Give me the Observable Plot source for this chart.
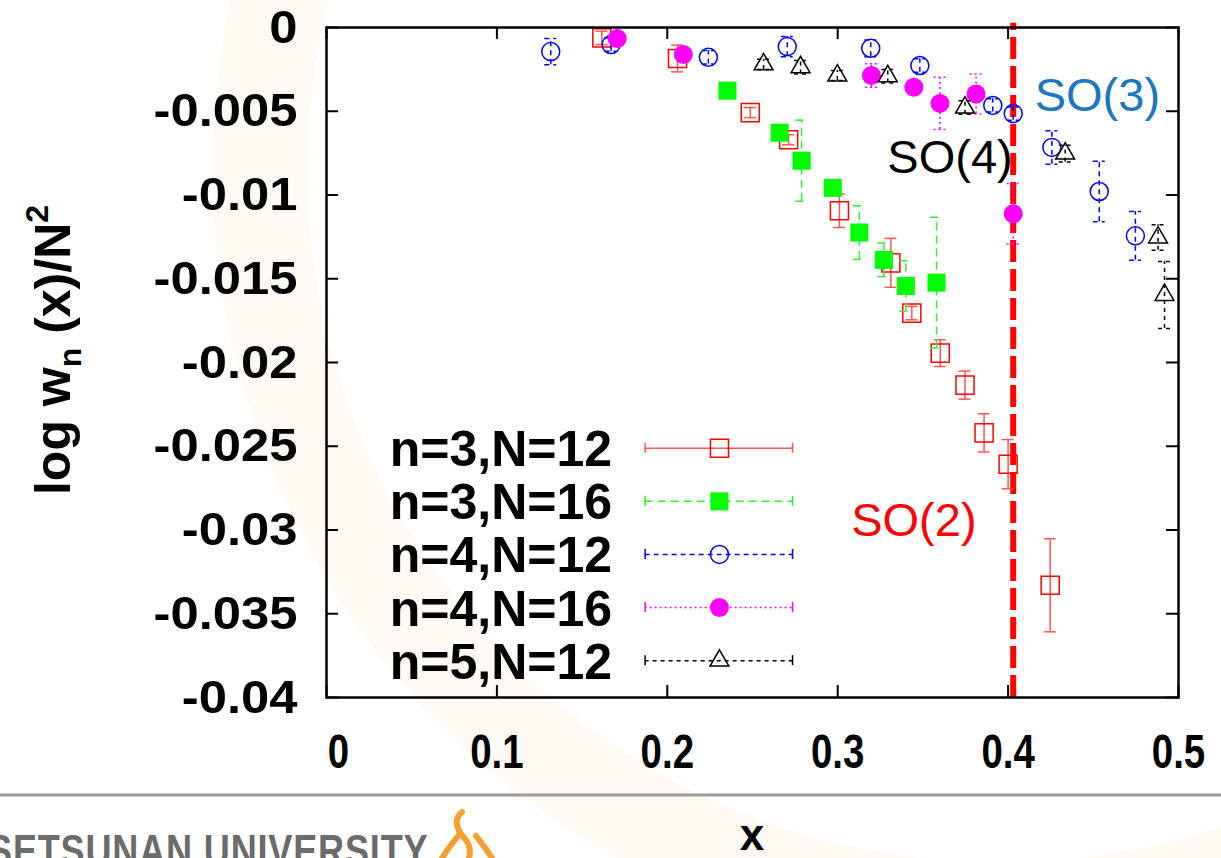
<!DOCTYPE html>
<html><head><meta charset="utf-8">
<script src="https://cdn.jsdelivr.net/npm/d3@7"></script>
<script src="https://cdn.jsdelivr.net/npm/@observablehq/plot@0.6"></script>
<style>
body{margin:0;background:#fff;overflow:hidden}
#chart{position:relative;width:1221px;height:858px}
</style></head><body><div id="chart"></div>
<script>
// ---- data ----
const xTicks = [0, 0.1, 0.2, 0.3, 0.4, 0.5];
const yTicks = [0, -0.005, -0.01, -0.015, -0.02, -0.025, -0.03, -0.035, -0.04];

// n=3, N=12
const s1x = [0.1616, 0.206, 0.2487, 0.2712, 0.301, 0.3312, 0.3435, 0.3602, 0.3747, 0.3859, 0.400, 0.4247];
const s1y = [-0.00062, -0.00185, -0.00508, -0.0067, -0.01094, -0.01405, -0.01705, -0.01944, -0.02135, -0.0242, -0.02607, -0.0333];
const s1e = [0.0004, 0.0008, 0.0003, 0.0003, 0.001, 0.00146, 0.0004, 0.0008, 0.00084, 0.00114, 0.00147, 0.00278];
// n=3, N=16
const s2x = [0.2353, 0.2659, 0.2788, 0.2971, 0.3127, 0.3271, 0.34, 0.358];
const s2y = [-0.00377, -0.00628, -0.00795, -0.00957, -0.01224, -0.01387, -0.01543, -0.01523];
const s2e = [0.0002, 0.0003, 0.00242, 0.0002, 0.0016, 0.001, 0.0015, 0.0039];
// n=4, N=12
const s3x = [0.1316, 0.167, 0.2241, 0.2704, 0.3194, 0.3482, 0.391, 0.403, 0.4257, 0.4535, 0.4747];
const s3y = [-0.00144, -0.00102, -0.00178, -0.00114, -0.00124, -0.00227, -0.00465, -0.00514, -0.00716, -0.00979, -0.01244];
const s3e = [0.00078, 0.0004, 0.0004, 0.0006, 0.0005, 0.0004, 0.0004, 0.0004, 0.001, 0.0018, 0.00145];
// n=4, N=16
const s4x = [0.1706, 0.2094, 0.3198, 0.3447, 0.36, 0.3812, 0.403];
const s4y = [-0.00066, -0.00161, -0.00287, -0.00357, -0.00453, -0.00397, -0.01112];
const s4e = [0.0003, 0.0003, 0.0007, 0.0003, 0.00156, 0.0012, 0.0018];
// n=5, N=12
const s5x = [0.2565, 0.2782, 0.2998, 0.3294, 0.3747, 0.4335, 0.488, 0.4918];
const s5y = [-0.0022, -0.00237, -0.00287, -0.00291, -0.00478, -0.00753, -0.01254, -0.01597];
const s5e = [0.0003, 0.0004, 0.0003, 0.0004, 0.0004, 0.0005, 0.00076, 0.002];

const seriesNames = ["n=3,N=12", "n=3,N=16", "n=4,N=12", "n=4,N=16", "n=5,N=12"];
const criticalX = [0.403];
const annoText = ["SO(3)", "SO(4)", "SO(2)"];
const annoX = [0.4524, 0.3659, 0.3447];
const annoY = [-0.00407, -0.00777, -0.02948];
const annoColor = ["#1a78c2", "#000000", "#ff0000"];
const legendY = [-0.02512, -0.02829, -0.03146, -0.03463, -0.0378];

// ---- styles ----
const styles = [
  {stroke: "#ff0000", bar: "#ff5555", dash: null, symbol: "square", r: 10.2, fill: "none"},
  {stroke: "#00ff00", bar: "#33ee33", dash: "8,5", symbol: "square", r: 10.2, fill: "#00ff00"},
  {stroke: "#0000ff", bar: "#0000ff", dash: "5,4", symbol: "circle", r: 9, fill: "none"},
  {stroke: "#ff00ff", bar: "#ff00ff", dash: "2,3", symbol: "circle", r: 9.5, fill: "#ff00ff"},
  {stroke: "#000000", bar: "#000000", dash: "4,4", symbol: "triangle", r: 7, fill: "none"}
];
const rows = (xs, ys, es) => xs.map((x, i) => ({x, y: ys[i], e: es[i]}));
const data = [rows(s1x, s1y, s1e), rows(s2x, s2y, s2e), rows(s3x, s3y, s3e), rows(s4x, s4y, s4e), rows(s5x, s5y, s5e)];

const X0 = 0, X1 = 0.5, Y0 = -0.04, Y1 = 0;
const capW = 0.0035;    // half width of error-bar caps (x units)
const tickLenY = 0.00072, tickLenX = 0.0071;

const marks = [];
marks.push(Plot.ruleX(criticalX, {x: d => d, y1: Y0, y2: 0.00025, stroke: "#ff0000", strokeWidth: 6, strokeDasharray: "22,7"}));

data.forEach((rs, i) => {
  const s = styles[i];
  const common = {stroke: s.bar, strokeWidth: 1.5, strokeDasharray: s.dash};
  marks.push(Plot.ruleX(rs, {x: "x", y1: d => d.y - d.e, y2: d => d.y + d.e, ...common}));
  marks.push(Plot.ruleY(rs, {y: d => d.y + d.e, x1: d => d.x - capW, x2: d => d.x + capW, ...common}));
  marks.push(Plot.ruleY(rs, {y: d => d.y - d.e, x1: d => d.x - capW, x2: d => d.x + capW, ...common}));
  marks.push(Plot.dot(rs, {x: "x", y: "y", symbol: () => s.symbol, r: s.r, stroke: s.fill === "none" ? s.stroke : "none", fill: s.fill, strokeWidth: 1.5}));
});

// legend (inside plot, drawn in data space)
const legX1 = 0.187, legX2 = 0.2735, legXm = 0.2306, legXt = 0.1676;
const legRows = seriesNames.map((name, i) => ({name, y: legendY[i], i}));
legRows.forEach(d => {
  const s = styles[d.i];
  const common = {stroke: s.bar, strokeWidth: 1.5, strokeDasharray: s.dash};
  marks.push(Plot.ruleY([d], {y: "y", x1: legX1, x2: legX2, ...common}));
  marks.push(Plot.ruleX([legX1, legX2], {x: v => v, y1: d.y - 0.0003, y2: d.y + 0.0003, stroke: s.bar, strokeWidth: 1.5}));
  marks.push(Plot.dot([d], {x: () => legXm, y: "y", symbol: () => s.symbol, r: s.r, stroke: s.fill === "none" ? s.stroke : "none", fill: s.fill, strokeWidth: 1.5}));
});
marks.push(Plot.text(legRows, {x: () => legXt, y: "y", text: "name", textAnchor: "end", fontSize: 50, fontWeight: "bold", fill: "#000", dy: 2}));

// annotations
marks.push(Plot.text(annoText.map((t, i) => ({t, x: annoX[i], y: annoY[i], c: annoColor[i]})),
  {x: "x", y: "y", text: "t", fill: d => d.c, fontSize: 47, textAnchor: "middle", lineAnchor: "middle"}));

// inward ticks on all four sides
marks.push(Plot.ruleX(xTicks, {x: d => d, y1: Y0, y2: Y0 + tickLenY, stroke: "#000", strokeWidth: 2}));
marks.push(Plot.ruleX(xTicks, {x: d => d, y1: Y1, y2: Y1 - tickLenY, stroke: "#000", strokeWidth: 2}));
marks.push(Plot.ruleY(yTicks, {y: d => d, x1: X0, x2: X0 + tickLenX, stroke: "#000", strokeWidth: 2}));
marks.push(Plot.ruleY(yTicks, {y: d => d, x1: X1 - tickLenX, x2: X1, stroke: "#000", strokeWidth: 2}));
marks.push(Plot.frame({stroke: "#000", strokeWidth: 2.5}));

// tick labels
marks.push(Plot.axisX({ticks: xTicks, tickSize: 0, tickPadding: 36, tickFormat: d => String(d), fontSize: 48, fontWeight: "bold", label: null}));
marks.push(Plot.axisY({ticks: yTicks, tickSize: 0, tickPadding: 29, tickFormat: d => d === 0 ? "0" : String(+d.toFixed(3)), fontSize: 47, fontWeight: "bold", label: null}));

const chart = Plot.plot({
  width: 1221, height: 858,
  marginLeft: 326, marginRight: 43, marginTop: 27, marginBottom: 161,
  x: {domain: [X0, X1]},
  y: {domain: [Y0, Y1]},
  style: {fontFamily: "Liberation Sans, Arial, sans-serif", background: "transparent", overflow: "visible"},
  marks
});
document.getElementById("chart").appendChild(chart);

// --- post-processing: label text, page decorations ---
const svg = d3.select(chart);
svg.selectAll('g[aria-label="x-axis tick label"] text').attr("transform", function(d, i) {
  return d3.select(this).attr("transform") + (i === 0 ? " translate(12,0)" : "") + " scale(0.8,1)";
});
svg.selectAll('g[aria-label="y-axis tick label"] text').attr("transform", function() {
  return d3.select(this).attr("transform") + " scale(1.08,1)";
});

// very faint watermark ring behind everything
svg.insert("circle", ":first-child").attr("cx", 1000).attr("cy", 170).attr("r", 740)
  .attr("fill", "none").attr("stroke", "#fff9f4").attr("stroke-width", 95);

// y axis title with sub/superscript
const yl = svg.append("text")
  .attr("transform", "translate(70,350) rotate(-90)")
  .attr("text-anchor", "middle")
  .attr("font-family", "Liberation Sans, Arial, sans-serif")
  .attr("font-size", 50).attr("font-weight", "bold").attr("fill", "#000");
yl.append("tspan").text("log w");
yl.append("tspan").attr("font-size", 32).attr("dy", 11).text("n");
yl.append("tspan").attr("dy", -11).text(" (x)/N");
yl.append("tspan").attr("font-size", 32).attr("dy", -22).text("2");

// partial slide title at the very top (only a descender shows)
svg.append("text").attr("x", 848).attr("y", -10).attr("text-anchor", "middle")
  .attr("font-family", "Liberation Sans, Arial, sans-serif").attr("font-size", 44).attr("font-weight", "bold").text("g");

// gray separator line and x title
svg.insert("line", "circle + *").attr("x1", 0).attr("x2", 1221).attr("y1", 795).attr("y2", 795)
  .attr("stroke", "#9a9a9a").attr("stroke-width", 3);
svg.append("text").attr("x", 752).attr("y", 850).attr("text-anchor", "middle")
  .attr("font-family", "Liberation Sans, Arial, sans-serif").attr("font-size", 44).attr("font-weight", "bold").text("x");
svg.append("text").attr("text-anchor", "start")
  .attr("transform", "translate(-12,866) scale(0.82,1)")
  .attr("font-family", "Liberation Sans, Arial, sans-serif")
  .attr("font-size", 44).attr("font-weight", "bold").attr("fill", "#6b6b6b").attr("letter-spacing", 1)
  .text("SETSUNAN UNIVERSITY");
// small orange emblem
const lg = svg.append("g").attr("fill", "none").attr("stroke", "#f5a030").attr("stroke-width", 6).attr("stroke-linecap", "round");
lg.append("path").attr("d", "M462,812 C452,820 458,832 466,840 C472,848 470,856 468,862");
lg.append("path").attr("d", "M458,836 C450,846 444,854 440,862");
lg.append("path").attr("d", "M476,836 C484,846 490,854 494,862");
</script></body></html>
